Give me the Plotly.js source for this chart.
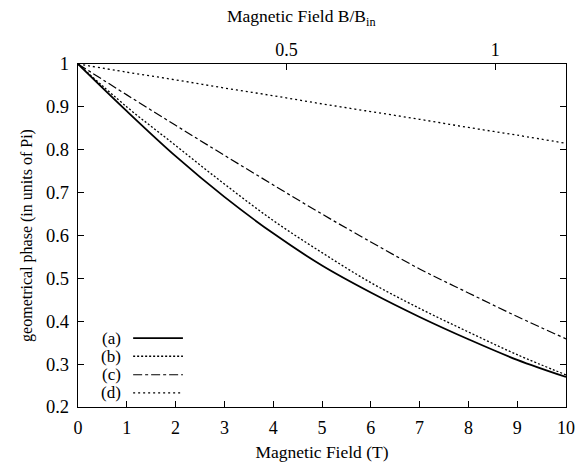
<!DOCTYPE html>
<html>
<head>
<meta charset="utf-8">
<script src="https://cdn.plot.ly/plotly-3.0.1.min.js"></script>
<style>html,body{margin:0;padding:0;background:#fff;}#chart{width:575px;height:465px;}</style>
</head>
<body>
<div id="chart"></div>
<script>
// Magnetic field (T)
const field = [0, 1, 2, 3, 4, 5, 6, 7, 8, 9, 10];
// geometrical phase (units of Pi)
const phaseA = [1, 0.89, 0.785, 0.69, 0.605, 0.53, 0.467, 0.41, 0.358, 0.31, 0.27];
const phaseB = [1, 0.90, 0.81, 0.72, 0.635, 0.56, 0.49, 0.43, 0.375, 0.322, 0.275];
const phaseC = [1, 0.928, 0.857, 0.787, 0.718, 0.65, 0.585, 0.522, 0.466, 0.411, 0.359];
const phaseD = [1, 0.981, 0.963, 0.944, 0.926, 0.907, 0.889, 0.871, 0.852, 0.834, 0.815];
const seriesLabels = ["(a)", "(b)", "(c)", "(d)"];
const yTicks = [0.2, 0.3, 0.4, 0.5, 0.6, 0.7, 0.8, 0.9, 1];
const xTicks = [0, 1, 2, 3, 4, 5, 6, 7, 8, 9, 10];
const topTicks = [0.5, 1];
const Bin = 8.55; // field in T corresponding to B/Bin = 1

const styles = [
  {dash: "solid", width: 1.8},
  {dash: "2px,2px", width: 1.3},
  {dash: "dashdot", width: 1.2},
  {dash: "2px,3px", width: 1.3}
];
const allY = [phaseA, phaseB, phaseC, phaseD];

const traces = allY.map((ys, i) => ({
  x: field, y: ys, type: "scatter", mode: "lines",
  line: {color: "#000", width: styles[i].width, dash: styles[i].dash, shape: "spline"},
  name: seriesLabels[i], showlegend: false, hoverinfo: "skip"
}));

const FAM = "Liberation Serif";
const f = (s) => ({family: FAM, size: s, color: "#000"});

// custom legend (text left, line sample right), as in the reference
const shapes = [];
const annotations = [];
const legRowsY = [0.201, 0.148, 0.094, 0.041];
seriesLabels.forEach((lab, i) => {
  annotations.push({xref: "paper", yref: "paper", x: 0.092, y: legRowsY[i], xanchor: "right", yanchor: "middle",
    text: lab, showarrow: false, font: f(17)});
  shapes.push({type: "line", xref: "paper", yref: "paper", x0: 0.113, x1: 0.215, y0: legRowsY[i], y1: legRowsY[i],
    line: {color: "#000", width: styles[i].width, dash: styles[i].dash}});
});
// top axis title
annotations.push({xref: "paper", yref: "paper", x: 0.457, y: 1.137, xanchor: "center", yanchor: "middle",
  text: "Magnetic Field B/B<sub>in</sub>", showarrow: false, font: f(17.5)});

const layout = {
  width: 575, height: 465,
  margin: {l: 78, r: 9, t: 64, b: 58},
  paper_bgcolor: "#fff", plot_bgcolor: "#fff",
  font: f(17),
  showlegend: false,
  xaxis: {
    range: [0, 10], tickvals: xTicks, ticktext: xTicks.map(String),
    ticks: "inside", ticklen: 6, tickwidth: 1, tickcolor: "#000",
    showline: true, linecolor: "#000", linewidth: 1.2, mirror: true,
    showgrid: false, zeroline: false, ticklabeloverflow: "allow",
    tickfont: f(18), ticklabelstandoff: 4,
    title: {text: "Magnetic Field (T)", font: f(17.5), standoff: 9}
  },
  xaxis2: {
    overlaying: "x", side: "top", anchor: "y",
    range: [0, 10 / Bin], tickvals: topTicks, ticktext: topTicks.map(String),
    ticks: "inside", ticklen: 6, tickwidth: 1, tickcolor: "#000",
    showline: false, showgrid: false, zeroline: false,
    tickfont: f(18), ticklabelstandoff: 3
  },
  yaxis: {
    range: [0.2, 1], tickvals: yTicks, ticktext: yTicks.map(v => String(v)),
    ticks: "inside", ticklen: 6, tickwidth: 1, tickcolor: "#000",
    showline: true, linecolor: "#000", linewidth: 1.2, mirror: "ticks",
    showgrid: false, zeroline: false, ticklabeloverflow: "allow",
    tickfont: f(18.5), ticklabelstandoff: 4,
    title: {text: "geometrical phase (in units of Pi)", font: f(16), standoff: 9}
  },
  shapes: shapes,
  annotations: annotations
};

// empty helper trace so the top axis is created
traces.push({x: [], y: [], xaxis: "x2", yaxis: "y", type: "scatter", mode: "lines", showlegend: false, hoverinfo: "skip"});

Plotly.newPlot("chart", traces, layout, {displayModeBar: false, staticPlot: true});
</script>
</body>
</html>
